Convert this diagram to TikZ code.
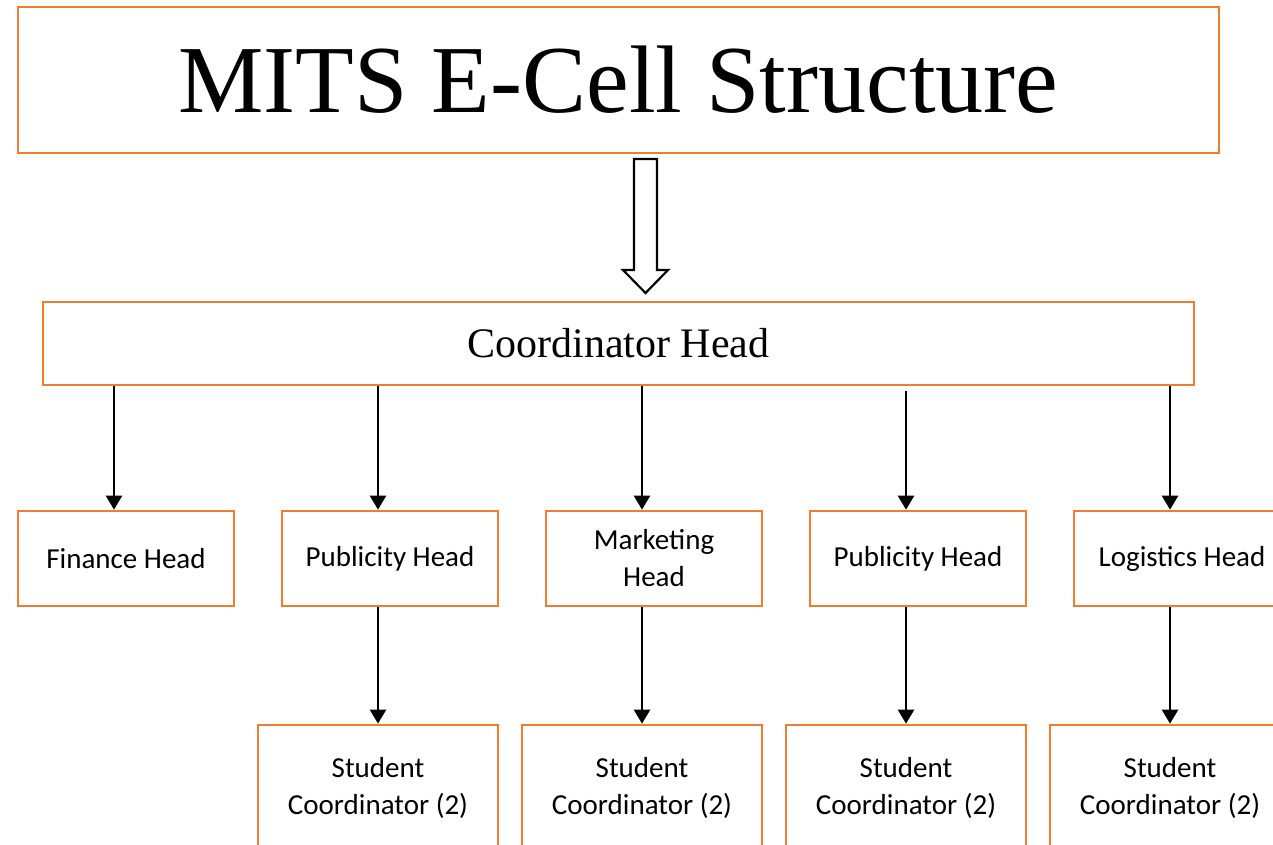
\documentclass[tikz,border=0pt]{standalone}
\usepackage{fontspec}
\usepackage{xcolor}
\setmainfont{Liberation Serif}
\newfontfamily\bodyfont{Carlito}
\usetikzlibrary{positioning,arrows.meta}
\definecolor{cellorange}{HTML}{ED7D31}

\begin{document}
\begin{tikzpicture}[x=1pt, y=-1pt,
              box/.style = {draw=cellorange, line width=2.7pt, shape=rectangle, align=center, inner sep=0pt},
              titlebox/.style = {box, minimum width=1201pt, minimum height=146pt, font=\fontsize{96}{100}\selectfont},
              headbox/.style = {box, minimum width=1151pt, minimum height=83pt, font=\fontsize{42}{46}\selectfont},
              deptbox/.style = {box, minimum width=216pt, minimum height=95pt, font=\bodyfont\fontsize{29}{37}\selectfont},
              studbox/.style = {box, minimum width=240pt, minimum height=125pt, font=\bodyfont\fontsize{29}{37}\selectfont},
              link/.style = {draw=black, line width=2.5pt, -{Triangle[width=16pt,length=14pt]}}]
  \clip (0,0) rectangle (1273,845);
  \fill[white] (0,0) rectangle (1273,845);

  \node[titlebox] (title) at (618.5,80) {MITS E-Cell Structure};
  \node[headbox] (coord) at (618.5,343.5) {Coordinator Head};

  % heads
  \node[deptbox] (finance) at (126,558.5) {Finance Head};
  \node[deptbox, right=45.3pt of finance] (publicity) {Publicity Head};
  \node[deptbox, right=45.3pt of publicity] (marketing) {Marketing\\Head};
  \node[deptbox, right=45.3pt of marketing] (publicitytwo) {Publicity Head};
  \node[deptbox, right=45.3pt of publicitytwo] (logistics) {Logistics Head};

  % student coordinators
  \node[studbox, below=116.3pt of publicity.south east, anchor=north east] (studa) {Student\\Coordinator (2)};
  \node[studbox, below=116.3pt of marketing.south east, anchor=north east] (studb) {Student\\Coordinator (2)};
  \node[studbox, below=116.3pt of publicitytwo.south east, anchor=north east] (studc) {Student\\Coordinator (2)};
  \node[studbox, below=116.3pt of logistics.south east, anchor=north east] (studd) {Student\\Coordinator (2)};

  % block arrow
  \coordinate (down) at (645.5,159);
  \draw[line width=2.2pt, fill=white] (down) ++(-11.5,0) -- ++(23,0) -- ++(0,111) -- ++(11,0)
        -- ++(-22.5,23) -- ++(-22.5,-23) -- ++(11,0) -- cycle;

  \draw[link] ([xshift=-12pt]finance.north |- coord.south) -- ([xshift=-12pt]finance.north);
  \draw[link] (coord.south -| studa.north) -- (publicity.north -| studa.north);
  \draw[link] (coord.south -| studb.north) -- (marketing.north -| studb.north);
  \draw[link] ([yshift=-5pt]coord.south -| studc.north) -- (publicitytwo.north -| studc.north);
  \draw[link] (coord.south -| studd.north) -- (logistics.north -| studd.north);

  \draw[link] (publicity.south -| studa.north) -- (studa.north);
  \draw[link] (marketing.south -| studb.north) -- (studb.north);
  \draw[link] (publicitytwo.south -| studc.north) -- (studc.north);
  \draw[link] (logistics.south -| studd.north) -- (studd.north);
\end{tikzpicture}
\end{document}
